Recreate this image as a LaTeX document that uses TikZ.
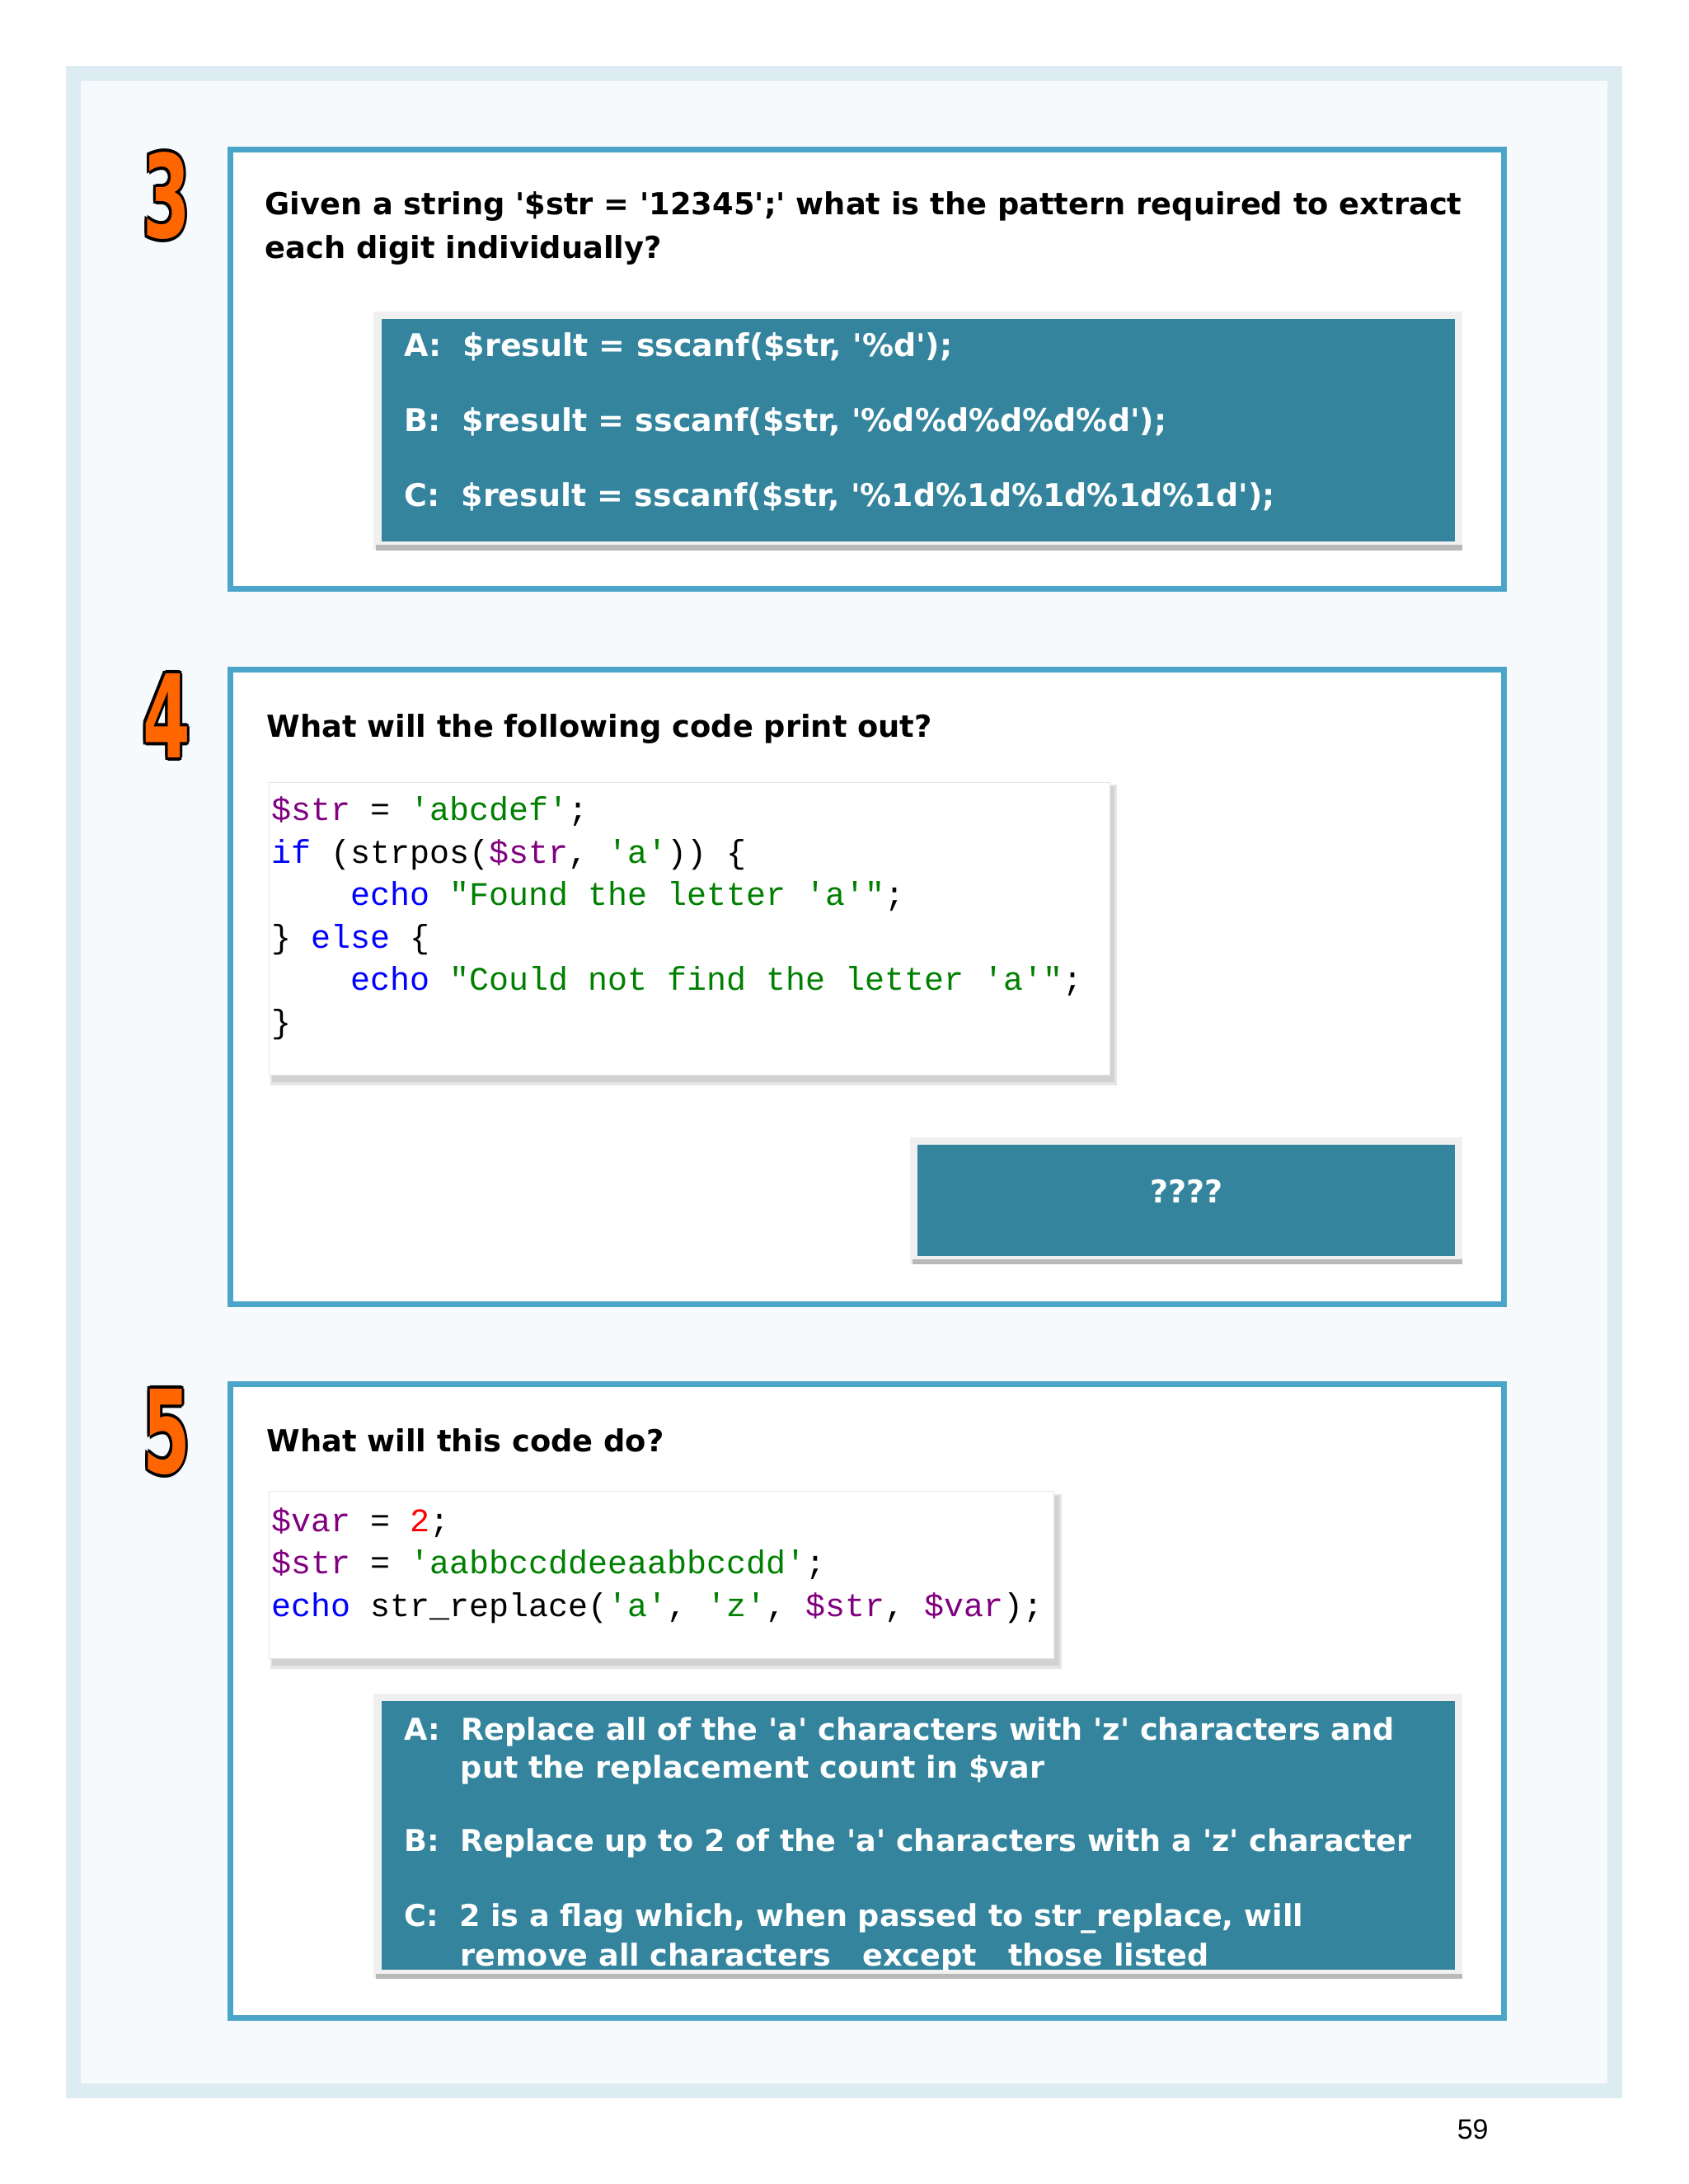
\documentclass[tikz,border=0pt]{standalone}
\usepackage{fontspec}
\newfontfamily\qf{DejaVu Sans}[BoldFont={DejaVu Sans Bold}]
\newfontfamily\cf{Liberation Mono}
\newfontfamily\nf{DejaVu Sans Condensed}[BoldFont={DejaVu Sans Condensed Bold}]
\newfontfamily\pf{Liberation Sans}
\definecolor{frame}{HTML}{DDEBF3}
\definecolor{pagebg}{HTML}{F7FAFC}
\definecolor{qbord}{HTML}{4BA5C8}
\definecolor{teal}{HTML}{34849E}
\definecolor{num}{HTML}{FF6600}
\definecolor{cpur}{HTML}{800080}
\definecolor{cgrn}{HTML}{008000}
\definecolor{cblu}{HTML}{0000FF}
\definecolor{cred}{HTML}{FF0000}
\newcommand{\Pu}[1]{\textcolor{cpur}{#1}}
\newcommand{\Gr}[1]{\textcolor{cgrn}{#1}}
\newcommand{\Bl}[1]{\textcolor{cblu}{#1}}
\newcommand{\Rd}[1]{\textcolor{cred}{#1}}
\newcommand{\ol}[3]{\rlap{\hspace{#1}\raisebox{#2}{\textcolor{black}{#3}}}}
\newcommand{\outlined}[1]{\ol{-1.6pt}{0pt}{#1}\ol{1.6pt}{0pt}{#1}\ol{0pt}{1.4pt}{#1}\ol{0pt}{-1.4pt}{#1}%
  \ol{-1.2pt}{1pt}{#1}\ol{1.2pt}{1pt}{#1}\ol{-1.2pt}{-1pt}{#1}\ol{1.2pt}{-1pt}{#1}\textcolor{num}{#1}}
\tikzset{
  qbox/.style={draw=qbord,line width=3.5pt,fill=white},
  qtext/.style={anchor=base west,font=\qf\bfseries\fontsize{18.4}{22}\selectfont,inner sep=0},
  otext/.style={anchor=base west,font=\qf\bfseries\fontsize{19}{23}\selectfont,text=white,inner sep=0},
  o5text/.style={otext,font=\qf\bfseries\fontsize{18.3}{22}\selectfont},
  ctext/.style={anchor=base west,font=\cf\fontsize{20}{24}\selectfont,inner sep=0},
  numtext/.style={font=\nf\bfseries\fontsize{50}{50}\selectfont,inner sep=0,xscale=0.92,yscale=1.4}
}
\newcommand{\ansbox}[4]{%
  \fill[gray!12] (#1-9,#2-9) rectangle (#3+9,#4+9);
  \fill[gray!55] (#1-6,#4+4) rectangle (#3+9,#4+10);
  \fill[teal] (#1,#2) rectangle (#3,#4);}
\newcommand{\codebox}[4]{%
  \fill[gray!20] (#1+2,#2+3) rectangle (#3+9,#4+12);
  \fill[gray!35] (#1+4,#2+5) rectangle (#3+6,#4+8);
  \fill[white] (#1,#2) rectangle (#3,#4);
  \draw[gray!20] (#1,#2) rectangle (#3,#4);}
\begin{document}
\begin{tikzpicture}[x=0.505pt,y=-0.505pt]
\useasboundingbox (0,0) rectangle (2028,2624);
\fill[white] (0,0) rectangle (2028,2624);
\fill[frame] (79,79) rectangle (1949,2521);
\fill[pagebg] (97,97) rectangle (1931,2503);
% ---------- Q3
\node[qbox,minimum width=1530*0.505pt,minimum height=528*0.505pt,anchor=north west] (b3) at (273,176) {};
\node[numtext] (n3) at (200,235) {\outlined{3}};
\node[qtext] (q3a) at (318,258) {Given a string '\$str = '12345';' what is the pattern required to extract};
\node[qtext] (q3b) at (318,310) {each digit individually?};
\ansbox{458}{383}{1748}{651}
\node[otext] (a3) at (485,428) {A:\ \ \$result = sscanf(\$str, '\%d');};
\node[otext] (b3o) at (485,518) {B:\ \ \$result = sscanf(\$str, '\%d\%d\%d\%d\%d');};
\node[otext] (c3) at (485,608) {C:\ \ \$result = sscanf(\$str, '\%1d\%1d\%1d\%1d\%1d');};
% ---------- Q4
\node[qbox,minimum width=1530*0.505pt,minimum height=762*0.505pt,anchor=north west] (b4) at (273,801) {};
\node[numtext] (n4) at (200,860) {\outlined{4}};
\node[qtext] (q4) at (320,886) {What will the following code print out?};
\codebox{323}{940}{1333}{1292}
\node[ctext] (l1) at (326,986) {\Pu{\$str} = \Gr{'abcdef'};};
\node[ctext] (l2) at (326,1037) {\Bl{if} (strpos(\Pu{\$str}, \Gr{'a'})) \{};
\node[ctext] (l3) at (326,1088) {\phantom{xxxx}\Bl{echo} \Gr{"Found the letter 'a'"};};
\node[ctext] (l4) at (326,1139) {\} \Bl{else} \{};
\node[ctext] (l5) at (326,1190) {\phantom{xxxx}\Bl{echo} \Gr{"Could not find the letter 'a'"};};
\node[ctext] (l6) at (326,1241) {\}};
\ansbox{1102}{1375}{1748}{1509}
\node[otext,anchor=base] (a4) at (1425,1445) {????};
% ---------- Q5
\node[qbox,minimum width=1530*0.505pt,minimum height=761*0.505pt,anchor=north west] (b5) at (273,1660) {};
\node[numtext] (n5) at (200,1720) {\outlined{5}};
\node[qtext] (q5) at (320,1744) {What will this code do?};
\codebox{323}{1792}{1266}{1993}
\node[ctext] (m1) at (326,1840) {\Pu{\$var} = \Rd{2};};
\node[ctext] (m2) at (326,1891) {\Pu{\$str} = \Gr{'aabbccddeeaabbccdd'};};
\node[ctext] (m3) at (326,1942) {\Bl{echo} str\_replace(\Gr{'a'}, \Gr{'z'}, \Pu{\$str}, \Pu{\$var});};
\ansbox{458}{2044}{1748}{2367}
\begin{scope}
\clip (458,2044) rectangle (1748,2367);
\node[o5text] (a5a) at (485,2091) {A:\ \ Replace all of the 'a' characters with 'z' characters and};
\node[o5text] (a5b) at (553,2136) {put the replacement count in \$var};
\node[o5text] (b5o) at (485,2224) {B:\ \ Replace up to 2 of the 'a' characters with a 'z' character};
\node[o5text] (c5a) at (485,2315) {C:\ \ 2 is a flag which, when passed to str\_replace, will};
\node[o5text] (c5b) at (553,2362) {remove all characters\ \ \ except\ \ \ those listed};
\end{scope}
\node[anchor=base west,font=\pf\fontsize{17}{20}\selectfont,inner sep=0] (pg) at (1750,2570) {59};
\end{tikzpicture}
\end{document}
